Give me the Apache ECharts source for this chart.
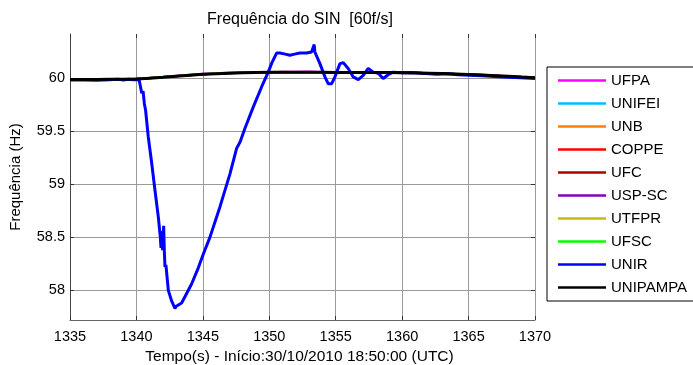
<!DOCTYPE html>
<html>
<head>
<meta charset="utf-8">
<script src="https://cdn.jsdelivr.net/npm/echarts@6/dist/echarts.min.js"></script>
<style>
  html, body { margin: 0; padding: 0; background: #fff; }
  #chart { width: 693px; height: 365px; }
</style>
</head>
<body>
<div id="chart"></div>
<script>
// Sample times (s) shared by the PMU stations that stay close to 60 Hz
const timeGrid = [1335,1336,1337,1338,1339,1340,1341,1342,1343,1344,1345,1346,1347,1348,1349,1350,1351,1352,
                  1353,1354,1355,1356,1357,1358,1359,1360,1361,1362,1363,1364,1365,1366,1367,1368,1369,1370];

const freqUFPA    = [59.992,59.988,59.994,59.990,59.996,59.999,60.008,60.016,60.026,60.035,60.044,60.049,60.056,60.058,60.062,60.060,60.064,60.063,60.065,60.061,60.060,60.059,60.062,60.060,60.060,60.058,60.056,60.052,60.050,60.045,60.041,60.036,60.031,60.022,60.017,60.011];
const freqUNIFEI  = [59.989,59.991,59.990,59.993,59.992,59.997,60.004,60.010,60.023,60.030,60.040,60.046,60.049,60.055,60.056,60.059,60.058,60.061,60.059,60.059,60.055,60.057,60.056,60.058,60.055,60.056,60.051,60.050,60.045,60.043,60.037,60.034,60.026,60.021,60.012,60.009];
const freqUNB     = [59.991,59.989,59.992,59.991,59.994,59.995,60.005,60.014,60.021,60.033,60.038,60.047,60.051,60.053,60.058,60.057,60.060,60.059,60.061,60.057,60.057,60.055,60.058,60.056,60.057,60.054,60.053,60.048,60.047,60.041,60.039,60.032,60.028,60.019,60.014,60.007];
const freqCOPPE   = [59.988,59.992,59.989,59.994,59.991,59.998,60.002,60.013,60.024,60.029,60.041,60.044,60.052,60.053,60.059,60.056,60.061,60.058,60.062,60.057,60.058,60.054,60.059,60.055,60.058,60.053,60.054,60.047,60.048,60.040,60.040,60.031,60.029,60.018,60.015,60.006];
const freqUFC     = [59.990,59.989,59.992,59.991,59.993,59.995,60.004,60.011,60.023,60.030,60.040,60.044,60.051,60.053,60.058,60.057,60.060,60.059,60.061,60.057,60.057,60.055,60.058,60.056,60.057,60.054,60.053,60.048,60.047,60.041,60.039,60.032,60.028,60.019,60.014,60.009];
const freqUSPSC   = [59.991,59.990,59.990,59.993,59.994,59.996,60.003,60.013,60.021,60.032,60.038,60.046,60.049,60.055,60.056,60.059,60.058,60.061,60.059,60.059,60.055,60.057,60.056,60.058,60.055,60.056,60.051,60.050,60.045,60.043,60.037,60.034,60.026,60.021,60.012,60.008];
const freqUTFPR   = [59.989,59.991,59.991,59.992,59.992,59.997,60.004,60.012,60.022,60.031,60.039,60.049,60.050,60.054,60.057,60.058,60.063,60.060,60.060,60.058,60.056,60.056,60.061,60.057,60.056,60.055,60.052,60.049,60.046,60.042,60.038,60.033,60.027,60.020,60.013,60.008];
const freqUFSC    = [59.990,59.992,59.990,59.993,59.995,59.997,60.006,60.015,60.022,60.034,60.040,60.048,60.050,60.056,60.057,60.061,60.059,60.062,60.060,60.060,60.056,60.058,60.057,60.059,60.056,60.057,60.052,60.051,60.046,60.044,60.038,60.035,60.027,60.022,60.013,60.010];
const freqUNIPAMPA= [59.990,59.990,59.991,59.992,59.993,59.996,60.003,60.012,60.022,60.031,60.039,60.045,60.050,60.054,60.057,60.058,60.059,60.060,60.060,60.058,60.056,60.056,60.057,60.057,60.056,60.055,60.052,60.049,60.046,60.042,60.038,60.033,60.027,60.020,60.013,60.008];

// UNIR (isolated system) has its own, denser record
const unirTime = [1335,1336,1337,1338,1338.6,1339,1339.4,1339.8,1340.2,1340.34,1340.4,1340.5,1340.6,1340.69,1340.89,1341.15,1341.4,1341.65,1341.8,1341.85,1341.92,1341.97,1342.05,1342.1,1342.15,1342.22,1342.4,1342.65,1342.9,1343.0,1343.15,1343.4,1343.65,1344.15,1344.65,1345.03,1345.53,1346.29,1347.04,1347.54,1347.8,1348.17,1348.79,1349.42,1349.92,1350.2,1350.55,1350.8,1351.2,1351.55,1351.9,1352.31,1352.8,1353.18,1353.3,1353.38,1353.43,1353.81,1354.19,1354.44,1354.69,1354.94,1355.32,1355.57,1355.94,1356.32,1356.7,1357.07,1357.45,1357.82,1358.2,1358.57,1359.0,1359.33,1360,1360.8,1361.5,1362.6,1363.5,1364.2,1365.1,1366,1367.6,1368.5,1369.3,1370];
const unirFreq = [59.985,59.986,59.984,59.988,59.994,59.986,59.993,59.987,59.99,59.98,59.86,59.88,59.76,59.70,59.45,59.20,58.94,58.69,58.50,58.40,58.56,58.38,58.61,58.37,58.22,58.24,58.00,57.90,57.83,57.85,57.86,57.88,57.94,58.06,58.21,58.34,58.50,58.79,59.10,59.34,59.40,59.53,59.73,59.92,60.06,60.15,60.24,60.24,60.23,60.22,60.23,60.24,60.24,60.25,60.26,60.32,60.25,60.14,60.015,59.95,59.95,60.015,60.14,60.15,60.095,60.015,59.99,60.03,60.095,60.06,60.05,60.0,60.04,60.06,60.055,60.057,60.05,60.04,60.045,60.035,60.03,60.025,60.015,60.01,60.005,60.0];

const stationNames = ['UFPA','UNIFEI','UNB','COPPE','UFC','USP-SC','UTFPR','UFSC','UNIR','UNIPAMPA'];
const yTicks = [58, 58.5, 59, 59.5, 60];

const stationColors = ['#ff00ff','#00bfff','#ff8000','#ff0000','#b00000','#8000c0','#c0c000','#00ff00','#0000ff','#000000'];

const zip = (xs, ys) => xs.map((x, i) => [x, ys[i]]);
const seriesValues = [freqUFPA, freqUNIFEI, freqUNB, freqCOPPE, freqUFC, freqUSPSC, freqUTFPR, freqUFSC, null, freqUNIPAMPA];

const FONT = '"Liberation Sans", Arial, sans-serif';
// Thin horizontal bar used as the legend key
const LEGEND_KEY = 'path://M0,0 L48,0 L48,2.5 L0,2.5 Z';

const series = stationNames.map((name, i) => ({
  name: name,
  type: 'line',
  symbol: 'none',
  xAxisIndex: 0,
  yAxisIndex: 0,
  data: name === 'UNIR' ? zip(unirTime, unirFreq) : zip(timeGrid, seriesValues[i]),
  lineStyle: { color: stationColors[i], width: (name === 'UNIR' || name === 'UNIPAMPA') ? 3 : 2 },
  itemStyle: { color: stationColors[i] },
  emphasis: { disabled: true },
  z: name === 'UNIPAMPA' ? 4 : (name === 'UNIR' ? 3 : 2)
}));

const chart = echarts.init(document.getElementById('chart'), null, { renderer: 'canvas' });
chart.setOption({
  animation: false,
  backgroundColor: '#fff',
  title: {
    text: 'Frequência do SIN  [60f/s]',
    left: 295,
    top: 7,
    textAlign: 'center',
    textStyle: { fontFamily: FONT, fontSize: 16, fontWeight: 'normal', color: '#000' }
  },
  grid: { left: 70, right: 158, top: 34, bottom: 45, containLabel: false, outerBoundsMode: 'none' },
  legend: {
    orient: 'vertical',
    left: 547,
    top: 67,
    padding: [5, 24, 5, 11],
    itemWidth: 48,
    itemHeight: 2.5,
    itemGap: 6,
    borderColor: '#000',
    borderWidth: 1,
    backgroundColor: '#fff',
    selectedMode: false,
    data: stationNames.map(n => ({ name: n, icon: LEGEND_KEY })),
    textStyle: { fontFamily: FONT, fontSize: 15, lineHeight: 17, color: '#000' }
  },
  xAxis: [
    {
      type: 'value', min: 1335, max: 1370, interval: 5, position: 'bottom',
      name: 'Tempo(s) - Início:30/10/2010 18:50:00 (UTC)',
      nameLocation: 'middle', nameGap: 28,
      nameTextStyle: { fontFamily: FONT, fontSize: 15.5, color: '#000', padding: [0, 6, 0, 0] },
      axisLine: { show: true, onZero: false, lineStyle: { color: '#666', width: 1 } },
      axisTick: { show: true, inside: true, length: 4, lineStyle: { color: '#333' } },
      axisLabel: { fontFamily: FONT, fontSize: 14.5, color: '#000', margin: 9, formatter: v => String(v) },
      splitLine: { show: true, lineStyle: { color: '#9a9a9a', width: 1 } }
    },
    {
      type: 'value', min: 1335, max: 1370, interval: 5, position: 'top',
      axisLine: { show: false },
      axisTick: { show: true, inside: true, length: 4, lineStyle: { color: '#333' } },
      axisLabel: { show: false },
      splitLine: { show: false }
    }
  ],
  yAxis: [
    {
      type: 'value', min: 57.72, max: 60.42, position: 'left',
      name: 'Frequência (Hz)',
      nameLocation: 'middle', nameGap: 47,
      nameTextStyle: { fontFamily: FONT, fontSize: 15, color: '#000' },
      axisLine: { show: true, onZero: false, lineStyle: { color: '#444', width: 1 } },
      axisTick: { show: true, inside: true, length: 4, customValues: yTicks, lineStyle: { color: '#333' } },
      axisLabel: { fontFamily: FONT, fontSize: 14.5, color: '#000', margin: 5, customValues: yTicks },
      splitLine: { show: true, lineStyle: { color: '#9a9a9a', width: 1 } }
    },
    {
      type: 'value', min: 57.72, max: 60.42, position: 'right',
      axisLine: { show: false },
      axisTick: { show: true, inside: true, length: 4, customValues: yTicks, lineStyle: { color: '#333' } },
      axisLabel: { show: false, customValues: yTicks },
      splitLine: { show: false }
    }
  ],
  series: series
});
</script>
</body>
</html>
